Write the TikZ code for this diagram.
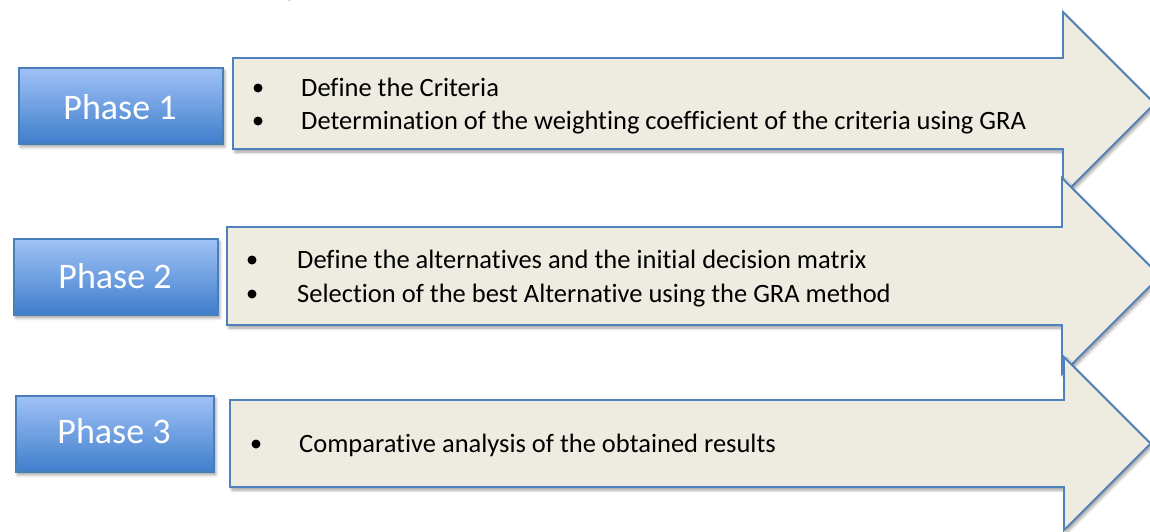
\documentclass[tikz,border=0pt]{standalone}
\usepackage{fontspec}
\setmainfont{Carlito}[Ligatures=NoCommon]
\usetikzlibrary{shadows.blur}

\definecolor{phtop}{HTML}{A0C2F6}
\definecolor{phbot}{HTML}{3F7ECC}
\definecolor{phline}{HTML}{4A7EBB}
\definecolor{arrowfill}{HTML}{EEECE1}
\definecolor{arrowline}{HTML}{4F81BD}

\tikzset{
  softshadow/.style={blur shadow={shadow xshift=2pt, shadow yshift=-3pt,
      shadow blur radius=3pt, shadow blur steps=6, shadow opacity=40}},
  phasebox/.style={draw=phline, line width=1.5pt, top color=phtop,
      bottom color=phbot, minimum width=204pt, minimum height=76pt,
      anchor=north west, inner sep=0pt, softshadow},
  phaselabel/.style={text=white, font=\fontsize{36}{40}\selectfont,
      anchor=base, inner sep=0pt},
  blockarrow/.style={draw=arrowline, line width=1.8pt, fill=arrowfill,
      line join=miter, softshadow},
  bulletdot/.style={circle, fill=black, inner sep=0pt, minimum size=9pt},
  itemtext/.style={font=\fontsize{26.5}{30}\selectfont, anchor=base west,
      inner sep=0pt},
}

\begin{document}
\begin{tikzpicture}[x=1pt, y=-1pt]
  \useasboundingbox (0,0) rectangle (1150,531);

  % heading, mostly above the page edge
  \node[anchor=base west, font=\fontsize{36}{40}\selectfont, inner sep=0pt]
    (heading) at (212,-6) {y diagram};

  % block arrows (later ones overlap earlier heads)
  \path[blockarrow] (233,58) -- (1063,58) -- (1063,12) -- (1154.5,103.5)
    -- (1063,195) -- (1063,149) -- (233,149) -- cycle;
  \path[blockarrow] (227,227) -- (1062,227) -- (1062,178) -- (1160,276)
    -- (1062,374) -- (1062,325) -- (227,325) -- cycle;
  \path[blockarrow] (230,400) -- (1064,400) -- (1064,357) -- (1150.5,443.5)
    -- (1064,530) -- (1064,487) -- (230,487) -- cycle;

  % phase boxes
  \node[phasebox] (p1) at (18,67) {};
  \node[phaselabel] (p1t) at (120,119) {Phase 1};
  \node[phasebox] (p2) at (13,238) {};
  \node[phaselabel] (p2t) at (115,288) {Phase 2};
  \node[phasebox, minimum width=198pt] (p3) at (15,395) {};
  \node[phaselabel] (p3t) at (114,443) {Phase 3};

  % phase 1 items
  \node[bulletdot] (b11) at (258,88) {};
  \node[itemtext] (t11) at (301,96) {Define the Criteria};
  \node[bulletdot] (b12) at (258,121) {};
  \node[itemtext] (t12) at (301,129) {Determination of the weighting coefficient of the criteria using GRA};

  % phase 2 items
  \node[bulletdot] (b21) at (252,260) {};
  \node[itemtext] (t21) at (297,268) {Define the alternatives and the initial decision matrix};
  \node[bulletdot] (b22) at (252,294) {};
  \node[itemtext] (t22) at (297,302) {Selection of the best Alternative using the GRA method};

  % phase 3 items
  \node[bulletdot] (b31) at (256,444) {};
  \node[itemtext] (t31) at (299,452) {Comparative analysis of the obtained results};
\end{tikzpicture}
\end{document}
